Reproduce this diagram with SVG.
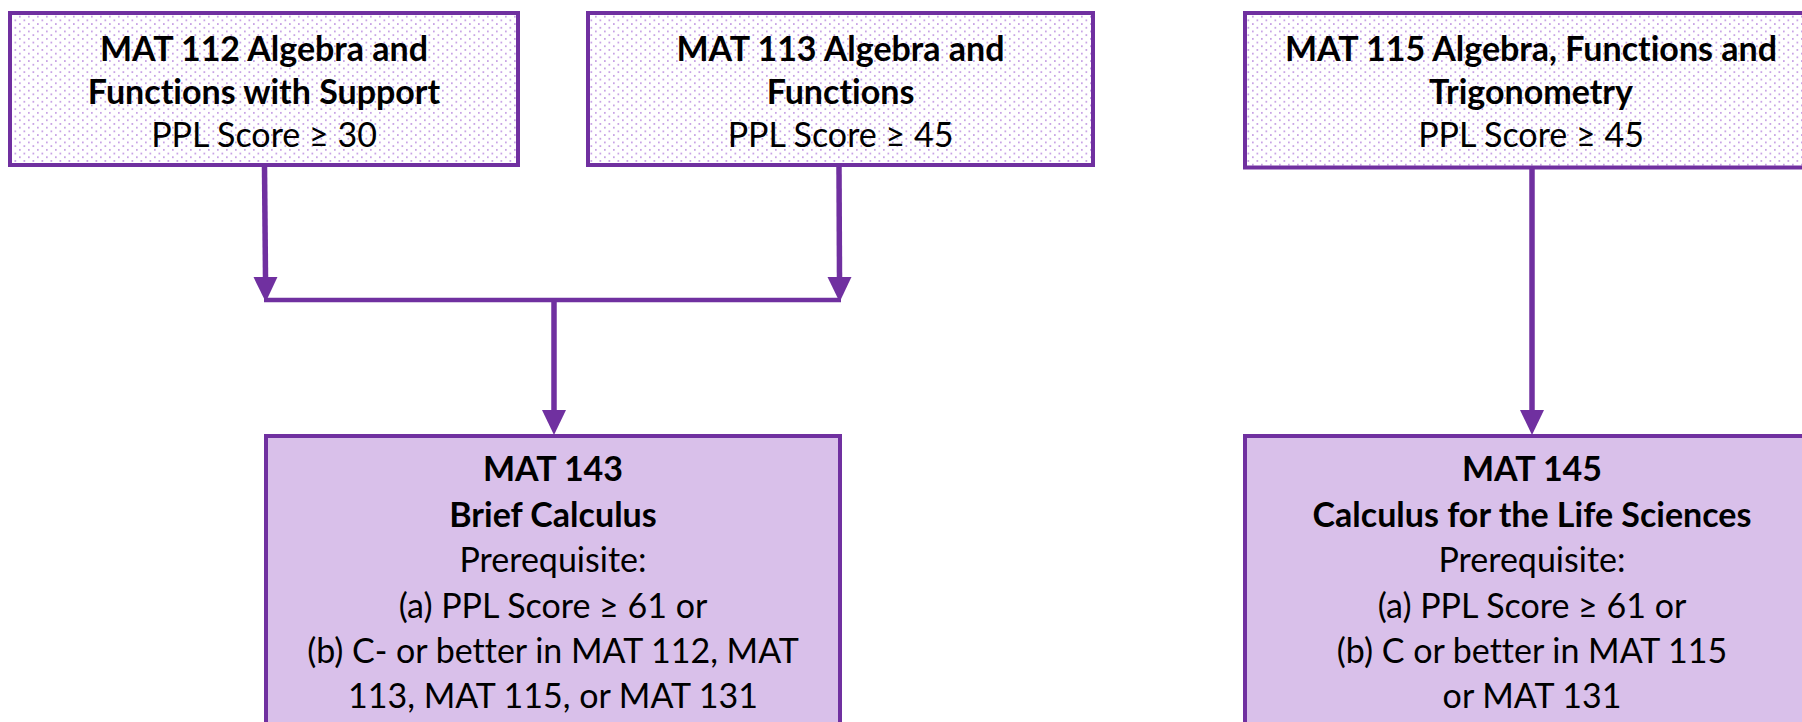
<svg xmlns="http://www.w3.org/2000/svg" width="1802" height="722" viewBox="0 0 1802 722">
  <style>
    .box { stroke: #7030A0; stroke-width: 4; }
    .top { fill: url(#dots); }
    .bot { fill: #D9C0EA; }
    text { font-family: Lato, "Open Sans", sans-serif; font-size: 34px; fill: #000; text-anchor: middle; font-variant-ligatures: none; font-feature-settings: "liga" 0, "clig" 0; }
    .b { font-weight: bold; }
    .conn { stroke: #7030A0; fill: none; }
    .shaft { stroke-width: 5.5; }
    .bar { stroke-width: 4.5; }
  </style>
  <defs>
    <pattern id="dots" patternUnits="userSpaceOnUse" width="9" height="7.4">
      <rect width="9" height="7.4" fill="#FFFFFF"/>
      <rect x="1" y="1" width="1.7" height="1.7" fill="#C49CE3"/>
      <rect x="5.5" y="4.7" width="1.7" height="1.7" fill="#C49CE3"/>
    </pattern>
    <marker id="head" markerUnits="userSpaceOnUse" markerWidth="26" markerHeight="26" viewBox="0 0 26 26" refX="0" refY="13" orient="auto">
      <path d="M0,1 L25,13 L0,25 Z" fill="#7030A0"/>
    </marker>
  </defs>

  <g id="connectors">
    <line class="conn shaft" x1="264.5" y1="167" x2="265.5" y2="277" marker-end="url(#head)"/>
    <line class="conn shaft" x1="839" y1="167" x2="839.5" y2="277" marker-end="url(#head)"/>
    <line class="conn bar" x1="264" y1="300" x2="841" y2="300"/>
    <line class="conn shaft" x1="554" y1="300" x2="554" y2="410" marker-end="url(#head)"/>
    <line class="conn shaft" x1="1532" y1="168" x2="1532" y2="410" marker-end="url(#head)"/>
  </g>

  <g id="mat112">
    <rect class="box top" x="10" y="13" width="508" height="152"/>
    <text class="b" x="264" y="61">MAT 112 Algebra and</text>
    <text class="b" x="264" y="104">Functions with Support</text>
    <text x="264" y="147">PPL Score ≥ 30</text>
  </g>

  <g id="mat113">
    <rect class="box top" x="588" y="13" width="505" height="152"/>
    <text class="b" x="840.5" y="61">MAT 113 Algebra and</text>
    <text class="b" x="840.5" y="104">Functions</text>
    <text x="840.5" y="147">PPL Score ≥ 45</text>
  </g>

  <g id="mat115">
    <rect class="box top" x="1245" y="13" width="600" height="154.5"/>
    <text class="b" x="1531" y="61">MAT 115 Algebra, Functions and</text>
    <text class="b" x="1531" y="104">Trigonometry</text>
    <text x="1531" y="147">PPL Score ≥ 45</text>
  </g>

  <g id="mat143">
    <rect class="box bot" x="266" y="436" width="574" height="300"/>
    <text class="b" x="553" y="481">MAT 143</text>
    <text class="b" x="553" y="526.5">Brief Calculus</text>
    <text x="553" y="572">Prerequisite:</text>
    <text x="553" y="617.5">(a) PPL Score ≥ 61 or</text>
    <text x="553" y="663">(b) C- or better in MAT 112, MAT</text>
    <text x="553" y="708">113, MAT 115, or MAT 131</text>
  </g>

  <g id="mat145">
    <rect class="box bot" x="1245" y="436" width="600" height="300"/>
    <text class="b" x="1532" y="481">MAT 145</text>
    <text class="b" x="1532" y="526.5">Calculus for the Life Sciences</text>
    <text x="1532" y="572">Prerequisite:</text>
    <text x="1532" y="617.5">(a) PPL Score ≥ 61 or</text>
    <text x="1532" y="663">(b) C or better in MAT 115</text>
    <text x="1532" y="708">or MAT 131</text>
  </g>
</svg>
